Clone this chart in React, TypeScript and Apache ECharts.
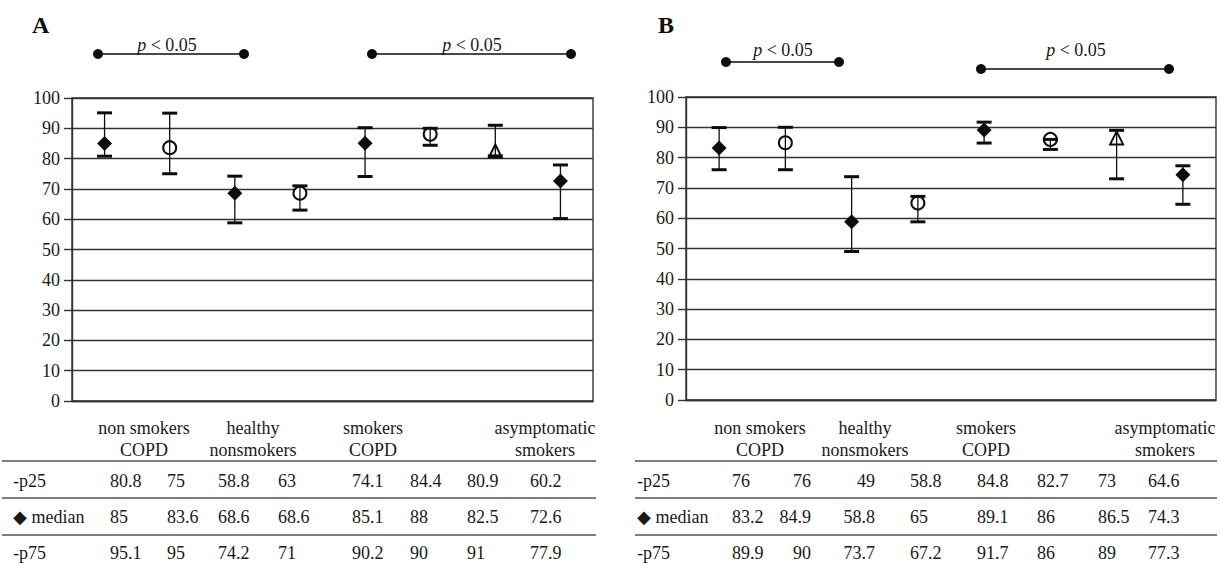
import React, { useEffect, useRef } from 'react';
import * as echarts from 'echarts';

// ---------- data ----------
const groupLabels = ['non smokers\nCOPD', 'healthy\nnonsmokers', 'smokers\nCOPD', 'asymptomatic\nsmokers'];
const pointIds = ['1', '2', '3', '4', '5', '6', '7', '8'];
const markerShapes = ['diamond', 'emptyCircle', 'diamond', 'emptyCircle', 'diamond', 'emptyCircle', 'emptyTriangle', 'diamond'];
const rowLabels = ['-p25', '\u25C6 median', '-p75'];
const panelTitles = ['A', 'B'];
const sigLabel = '{i|p} < 0.05';

const p25A = [80.8, 75, 58.8, 63, 74.1, 84.4, 80.9, 60.2];
const medianA = [85, 83.6, 68.6, 68.6, 85.1, 88, 82.5, 72.6];
const p75A = [95.1, 95, 74.2, 71, 90.2, 90, 91, 77.9];

const p25B = [76, 76, 49, 58.8, 84.8, 82.7, 73, 64.6];
const medianB = [83.2, 84.9, 58.8, 65, 89.1, 86, 86.5, 74.3];
const p75B = [89.9, 90, 73.7, 67.2, 91.7, 86, 89, 77.3];

// ---------- layout (pixels) ----------
const FONT = '"Liberation Serif", "Times New Roman", serif';
const INK = '#0d0d0d';
const TEXT_INK = '#1a1a1a';
const GRID_INK = '#333333';

const panels = [
  {
    p25: p25A, median: medianA, p75: p75A,
    grid: { left: 72, top: 98, width: 521, height: 303 },
    title: { x: 32, y: 25 },
    sig: [
      { x1: 98, x2: 244, y: 54, tx: 167, ty: 45 },
      { x1: 372, x2: 571, y: 54, tx: 472, ty: 45 },
    ],
    groupX: [144, 253, 373, 545],
    rowLabelX: 13,
    colX: [110, 167, 218, 278, 352, 410, 467, 530],
    colAlign: ['left', 'left', 'left', 'left', 'left', 'left', 'left', 'left'],
    lineX: [2, 596],
  },
  {
    p25: p25B, median: medianB, p75: p75B,
    grid: { left: 686, top: 97, width: 530, height: 303 },
    title: { x: 658, y: 25 },
    sig: [
      { x1: 726, x2: 839, y: 62, tx: 783, ty: 50 },
      { x1: 981, x2: 1169, y: 69, tx: 1076, ty: 50 },
    ],
    groupX: [760, 865, 986, 1165],
    rowLabelX: 637,
    colX: [732, 811, 875, 910, 977, 1037, 1098, 1148],
    colAlign: ['left', 'right', 'right', 'left', 'left', 'left', 'left', 'left'],
    lineX: [635, 1217],
  },
];

const groupLabelY = 439;
const rowY = [481, 517, 553];
const tableLineY = [461, 498, 535];

export default function App() {
  const ref = useRef<HTMLDivElement>(null);

  useEffect(() => {
    if (!ref.current) return;
    const chart = echarts.init(ref.current, undefined, { renderer: 'svg' });

    const grids: any[] = [];
    const xAxes: any[] = [];
    const yAxes: any[] = [];
    const series: any[] = [];
    const graphics: any[] = [];

    panels.forEach((p, pi) => {
      grids.push({
        ...p.grid,
        show: true,
        borderColor: GRID_INK,
        borderWidth: 1.4,
        backgroundColor: 'transparent',
      });
      xAxes.push({
        type: 'category',
        gridIndex: pi,
        data: pointIds,
        boundaryGap: true,
        axisLine: { show: true, lineStyle: { color: GRID_INK, width: 1.4 } },
        axisTick: { show: false },
        axisLabel: { show: false },
        splitLine: { show: false },
      });
      yAxes.push({
        type: 'value',
        gridIndex: pi,
        min: 0,
        max: 100,
        interval: 10,
        axisLine: { show: true, lineStyle: { color: GRID_INK, width: 1.4 } },
        axisTick: { show: true, inside: false, length: 8, lineStyle: { color: GRID_INK, width: 1.4 } },
        axisLabel: { show: true, margin: 12, color: TEXT_INK, fontSize: 18, fontFamily: FONT },
        splitLine: { show: true, lineStyle: { color: GRID_INK, width: 1.4 } },
      });

      // markers (median)
      series.push({
        type: 'scatter',
        xAxisIndex: pi,
        yAxisIndex: pi,
        z: 3,
        itemStyle: { opacity: 1 },
        data: p.median.map((v, i) => {
          const shape = markerShapes[i];
          const empty = shape.startsWith('empty');
          return {
            value: [i, v],
            symbol: shape,
            symbolSize: shape === 'diamond' ? [15, 15] : shape === 'emptyTriangle' ? [13, 13] : [13, 13],
            itemStyle: empty
              ? { color: INK, borderColor: INK, borderWidth: 1.3, opacity: 1 }
              : { color: INK, borderWidth: 0, opacity: 1 },
          };
        }),
      });

      // error bars p25 - p75
      series.push({
        type: 'custom',
        xAxisIndex: pi,
        yAxisIndex: pi,
        z: 4,
        data: p.p25.map((lo, i) => [i, lo, p.p75[i]]),
        renderItem: (params: any, api: any) => {
          const x = api.value(0);
          const lo = api.coord([x, api.value(1)]);
          const hi = api.coord([x, api.value(2)]);
          const hw = 7.5;
          return {
            type: 'group',
            children: [
              { type: 'line', shape: { x1: lo[0], y1: lo[1], x2: hi[0], y2: hi[1] }, style: { stroke: INK, lineWidth: 1.3 } },
              { type: 'line', shape: { x1: hi[0] - hw, y1: hi[1], x2: hi[0] + hw, y2: hi[1] }, style: { stroke: INK, lineWidth: 3 } },
              { type: 'line', shape: { x1: lo[0] - hw, y1: lo[1], x2: lo[0] + hw, y2: lo[1] }, style: { stroke: INK, lineWidth: 3 } },
            ],
          };
        },
      });

      // panel title
      graphics.push({
        type: 'text',
        x: p.title.x,
        y: p.title.y,
        style: { text: panelTitles[pi], fill: INK, font: `bold 24px ${FONT}`, align: 'left', verticalAlign: 'middle' },
      });

      // significance bars
      p.sig.forEach((s) => {
        graphics.push({ type: 'line', shape: { x1: s.x1, y1: s.y, x2: s.x2, y2: s.y }, style: { stroke: INK, lineWidth: 1.4 } });
        graphics.push({ type: 'circle', shape: { cx: s.x1, cy: s.y, r: 5 }, style: { fill: INK } });
        graphics.push({ type: 'circle', shape: { cx: s.x2, cy: s.y, r: 5 }, style: { fill: INK } });
        graphics.push({
          type: 'text',
          x: s.tx,
          y: s.ty,
          style: {
            text: sigLabel,
            fill: TEXT_INK,
            fontSize: 18,
            fontFamily: FONT,
            align: 'center',
            verticalAlign: 'middle',
            rich: { i: { fontStyle: 'italic', fontSize: 18, fontFamily: FONT, fill: TEXT_INK } },
          },
        });
      });

      // group labels
      groupLabels.forEach((g, gi) => {
        graphics.push({
          type: 'text',
          x: p.groupX[gi],
          y: groupLabelY,
          style: { text: g, fill: TEXT_INK, fontSize: 18, fontFamily: FONT, align: 'center', verticalAlign: 'middle', lineHeight: 22 },
        });
      });

      // table lines
      tableLineY.forEach((ly) => {
        graphics.push({ type: 'line', shape: { x1: p.lineX[0], y1: ly, x2: p.lineX[1], y2: ly }, style: { stroke: '#555', lineWidth: 1.6 } });
      });

      // table rows
      const rows = [p.p25, p.median, p.p75];
      rows.forEach((vals, ri) => {
        graphics.push({
          type: 'text',
          x: p.rowLabelX,
          y: rowY[ri],
          style: { text: rowLabels[ri], fill: TEXT_INK, fontSize: 18, fontFamily: FONT, align: 'left', verticalAlign: 'middle' },
        });
        vals.forEach((v, ci) => {
          graphics.push({
            type: 'text',
            x: p.colX[ci],
            y: rowY[ri],
            style: { text: String(v), fill: TEXT_INK, fontSize: 18, fontFamily: FONT, align: p.colAlign[ci], verticalAlign: 'middle' },
          });
        });
      });
    });

    chart.setOption({
      animation: false,
      backgroundColor: '#ffffff',
      textStyle: { fontFamily: FONT },
      grid: grids,
      xAxis: xAxes,
      yAxis: yAxes,
      series,
      graphic: graphics,
    });

    return () => chart.dispose();
  }, []);

  return (
    <div
      ref={ref}
      style={{ position: 'absolute', left: 0, top: 0, width: 1220, height: 568, background: '#fff' }}
    />
  );
}
